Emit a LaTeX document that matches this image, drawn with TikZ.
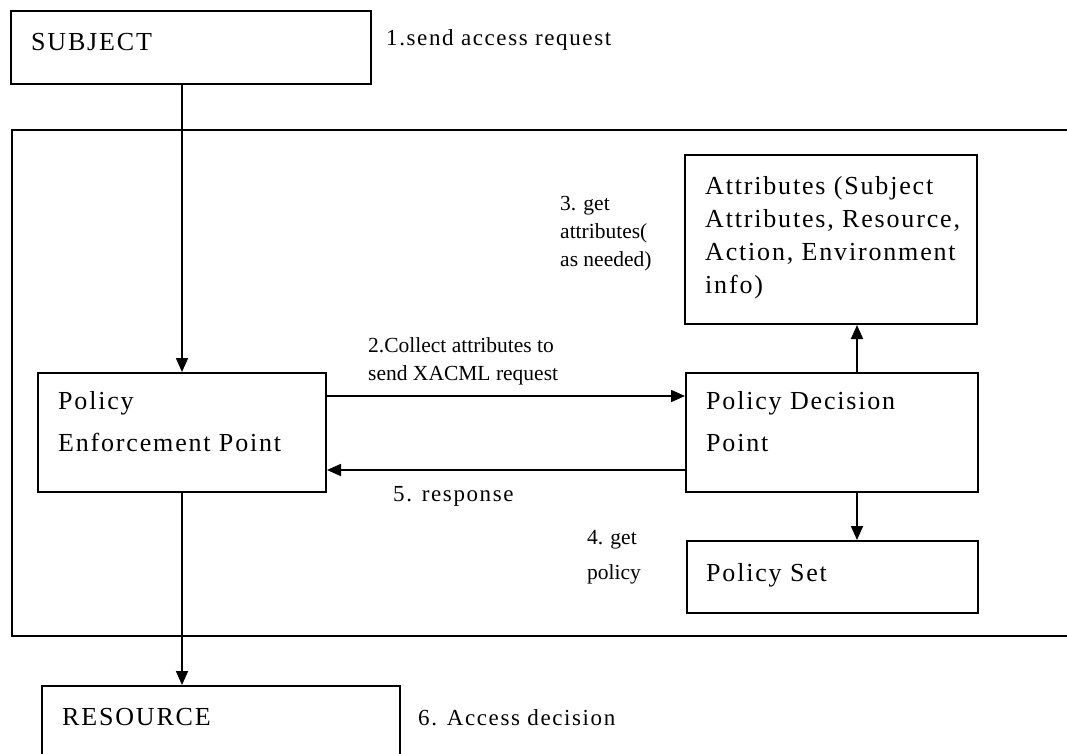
\documentclass[tikz,border=0pt]{standalone}
\usepackage{fontspec}
\setmainfont{Liberation Serif}
\newfontfamily\boxfont[LetterSpace=7]{Liberation Serif}
\usetikzlibrary{arrows.meta,positioning}

\begin{document}
\begin{tikzpicture}[x=1pt,y=-1pt,
    box/.style={draw,line width=2pt,inner sep=0pt,anchor=north west},
    boxtext/.style={anchor=base west,inner sep=0pt,align=left,font=\boxfont\fontsize{26}{33}\selectfont},
    wide/.style={boxtext,font=\boxfont\fontsize{26}{42}\selectfont},
    stepnote/.style={anchor=base west,inner sep=0pt,align=left,font=\boxfont\fontsize{23}{28}\selectfont},
    plainnote/.style={anchor=base west,inner sep=0pt,align=left,font=\fontsize{21.5}{28}\selectfont},
    arr/.style={line width=1.8pt,-{Triangle[length=14pt,width=12pt]}}]%
    \clip (0,0) rectangle (1067,754);
    %% boxes
    \node[box,minimum width=360,minimum height=73]  (subject)  at (10,10)  {};
    \node[box,minimum width=292,minimum height=169] (attrs)    at (684,154) {};
    \node[box,minimum width=292,minimum height=119] (pdp)      at (685,372) {};
    \node[box,minimum width=291,minimum height=72]  (pset)     at (686,540) {};
    \node[box,minimum width=288,minimum height=119] (pep)      at (37,372)  {};
    \node[box,minimum width=358,minimum height=90]  (resource) at (41,685)  {};
    %% frame round PEP/PDP
    \draw[line width=2pt] (1080,130) -| (12,636) -- (1080,636);
    %% box texts (base = last line)
    \node[boxtext] (subjecttxt)  at (31,51)   {SUBJECT};
    \node[boxtext] (attrstxt)    at (705,293) {Attributes (Subject\\Attributes, Resource,\\Action, Environment\\info)};
    \node[wide]    (pdptxt)      at (706,451) {Policy Decision\\Point};
    \node[wide]    (peptxt)      at (58,451)  {Policy\\Enforcement Point};
    \node[boxtext] (psettxt)     at (706,581) {Policy Set};
    \node[boxtext] (resourcetxt) at (62,725)  {RESOURCE};
    %% step labels
    \node[stepnote]  (sendreq)   at (386,46)  {1.send access request};
    \node[plainnote] (collect)   at (368,380) {2.Collect attributes to\\send XACML request};
    \node[plainnote] (getattrs)  at (560,266) {3. get\\attributes(\\as needed)};
    \node[plainnote,font=\fontsize{21.5}{35}\selectfont] (getpolicy) at (587,579) {4. get\\policy};
    \node[stepnote]  (response)  at (393,501) {5. response};
    \node[stepnote]  (decision)  at (418,725) {6. Access decision};
    %% connectors
    \draw[arr] (subject.south -| pep.north) -- (pep.north);
    \draw[arr] (pep.south) -- (pep.south |- resource.north);
    \draw[arr] ([yshift=-24pt]pep.north east) -- ([yshift=-24pt]pdp.north west);
    \draw[arr] ([yshift=23pt]pdp.south west) -- ([yshift=23pt]pep.south east);
    \draw[arr] ([xshift=-122pt]pdp.north east) -- ([xshift=-122pt]pdp.north east |- attrs.south);
    \draw[arr] ([xshift=-122pt]pdp.south east) -- ([xshift=-122pt]pdp.south east |- pset.north);
\end{tikzpicture}
\end{document}
